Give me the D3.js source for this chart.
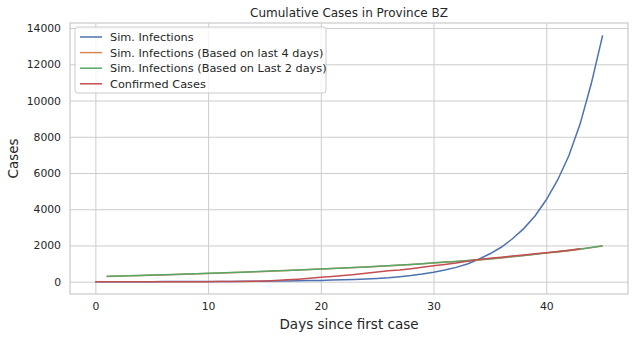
<!DOCTYPE html>
<html>
<head>
<meta charset="utf-8">
<script src="https://cdn.jsdelivr.net/npm/d3@7"></script>
<style>
  body { margin: 0; background: #fff; }
  svg { font-family: "DejaVu Sans", sans-serif; }
</style>
</head>
<body>
<svg width="634" height="339"></svg>
<script>
let width = 634, height = 339;
let margin = { left: 70, right: 6, top: 23, bottom: 45 };

// Data
let simDays = d3.range(0, 46);
let simInfections = [1, 1, 2, 2, 3, 3, 4, 5, 6, 7, 9, 11, 14, 17, 21, 26, 32, 40, 49, 60,
    72, 88, 105, 125, 150, 180, 220, 275, 340, 420, 520, 640, 790, 980, 1240, 1540, 1900,
    2370, 2930, 3630, 4520, 5600, 6950, 8700, 10950, 13600];

// days 1..45
let fitDays = d3.range(1, 46);
let simLast4 = [290, 306, 322, 339, 356, 374, 393, 413, 434, 455,
    477, 499, 521, 544, 568, 593, 618, 644, 670, 696,
    723, 751, 780, 810, 842, 876, 911, 948, 988, 1032,
    1072, 1112, 1157, 1202, 1252, 1310, 1375, 1440, 1510, 1580,
    1645, 1712, 1790, 1880, 1975];
let simLast2 = [295, 312, 328, 345, 362, 380, 398, 418, 438, 460,
    482, 503, 525, 548, 572, 597, 622, 648, 674, 700,
    728, 756, 785, 815, 848, 882, 918, 955, 995, 1040,
    1080, 1120, 1165, 1210, 1260, 1320, 1385, 1450, 1520, 1590,
    1655, 1722, 1800, 1890, 1985];

let confDays = d3.range(0, 44);
let confirmed = [1, 1, 1, 1, 1, 1, 2, 2, 2, 3, 3, 4, 5, 8, 20, 40, 70, 100, 140, 190, 250,
    290, 340, 400, 470, 540, 600, 650, 720, 800, 880, 950, 1030, 1130, 1230, 1300, 1355,
    1420, 1475, 1540, 1600, 1665, 1740, 1820];

let series = [
    { name: "Sim. Infections", color: "#4C72B0", x: simDays, y: simInfections },
    { name: "Sim. Infections (Based on last 4 days)", color: "#DD8452", x: fitDays, y: simLast4 },
    { name: "Sim. Infections (Based on Last 2 days)", color: "#55A868", x: fitDays, y: simLast2 },
    { name: "Confirmed Cases", color: "#C44E52", x: confDays, y: confirmed }
];

let xTicks = [0, 10, 20, 30, 40];
let yTicks = [0, 2000, 4000, 6000, 8000, 10000, 12000, 14000];

let svg = d3.select("svg");
let plotW = width - margin.left - margin.right;
let plotH = height - margin.top - margin.bottom;

// matplotlib style 5% margins
let x = d3.scaleLinear().domain([-2.25, 47.25]).range([margin.left, margin.left + plotW]);
let y = d3.scaleLinear().domain([-680, 14280]).range([margin.top + plotH, margin.top]);

let textColor = "#262626";
let gridColor = "#cccccc";

// Grid
svg.append("g")
    .attr("transform", "translate(0," + (margin.top + plotH) + ")")
    .call(d3.axisBottom(x).tickValues(xTicks).tickSize(-plotH).tickPadding(8))
    .call(g => g.select(".domain").remove())
    .call(g => g.selectAll("line").attr("stroke", gridColor).attr("stroke-width", 1))
    .call(g => g.selectAll("text").attr("fill", textColor).style("font-size", "10.8px")
        .attr("font-family", "DejaVu Sans"));

svg.append("g")
    .attr("transform", "translate(" + margin.left + ",0)")
    .call(d3.axisLeft(y).tickValues(yTicks).tickFormat(d3.format("d")).tickSize(-plotW).tickPadding(9))
    .call(g => g.select(".domain").remove())
    .call(g => g.selectAll("line").attr("stroke", gridColor).attr("stroke-width", 1))
    .call(g => g.selectAll("text").attr("fill", textColor).style("font-size", "10.8px")
        .attr("font-family", "DejaVu Sans"));

// Frame
svg.append("rect")
    .attr("x", margin.left)
    .attr("y", margin.top)
    .attr("width", plotW)
    .attr("height", plotH)
    .attr("fill", "none")
    .attr("stroke", gridColor)
    .attr("stroke-width", 1.25);

// Lines
let line = d3.line()
    .x(d => x(d[0]))
    .y(d => y(d[1]));

svg.append("g").selectAll("path")
    .data(series)
    .enter().append("path")
    .attr("fill", "none")
    .attr("stroke", d => d.color)
    .attr("stroke-width", 1.5)
    .attr("d", d => line(d.x.map((v, i) => [v, d.y[i]])));

// Title and labels
svg.append("text")
    .attr("x", margin.left + plotW / 2)
    .attr("y", 17)
    .attr("text-anchor", "middle")
    .attr("fill", textColor)
    .style("font-size", "12px")
    .text("Cumulative Cases in Province BZ");

svg.append("text")
    .attr("x", margin.left + plotW / 2)
    .attr("y", 329)
    .attr("text-anchor", "middle")
    .attr("fill", textColor)
    .style("font-size", "13.5px")
    .text("Days since first case");

svg.append("text")
    .attr("transform", "translate(18," + (margin.top + plotH / 2) + ") rotate(-90)")
    .attr("text-anchor", "middle")
    .attr("fill", textColor)
    .style("font-size", "13.5px")
    .text("Cases");

// Legend
let legend = svg.append("g").attr("transform", "translate(75,27)");
legend.append("rect")
    .attr("width", 251)
    .attr("height", 66)
    .attr("rx", 2.5)
    .attr("fill", "white")
    .attr("fill-opacity", 0.8)
    .attr("stroke", gridColor)
    .attr("stroke-width", 1);

let item = legend.selectAll(".legenditem")
    .data(series)
    .enter().append("g")
    .attr("class", "legenditem")
    .attr("transform", (d, i) => "translate(0," + (10 + i * 15.6) + ")");

item.append("line")
    .attr("x1", 5).attr("x2", 27)
    .attr("stroke", d => d.color)
    .attr("stroke-width", 1.5);

item.append("text")
    .attr("x", 35)
    .attr("y", 4)
    .attr("fill", textColor)
    .style("font-size", "11.3px")
    .text(d => d.name);
</script>
</body>
</html>
